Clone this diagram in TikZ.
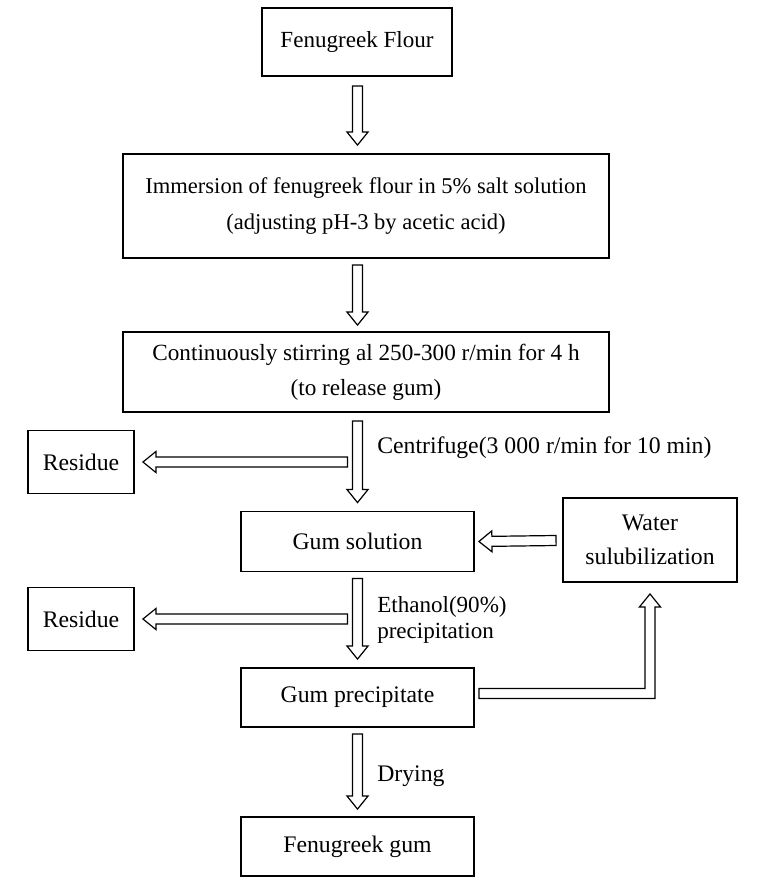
\documentclass[tikz,border=0pt]{standalone}
\usepackage{fontspec}
\setmainfont{Liberation Serif}
\usetikzlibrary{calc}
\newcommand{\hollowarrow}[2]{%
  \coordinate (hs) at (#1);
  \coordinate (he) at (#2);
  \coordinate (hb) at ($(he)!9.75pt!(hs)$);
  \draw[hollowline] ($(hs)!3.75pt!90:(he)$) -- ($(hb)!3.75pt!-90:(hs)$) -- ($(hb)!7.875pt!-90:(hs)$) -- (he) -- ($(hb)!7.875pt!90:(hs)$) -- ($(hb)!3.75pt!90:(hs)$) -- ($(hs)!3.75pt!-90:(he)$) -- cycle;
}
\begin{document}
\begin{tikzpicture}[x=0.75pt,y=-0.75pt,
  every node/.style={font=\fontsize{17.8}{26}\selectfont, text=black},
  stepbox/.style={draw=black, line width=1.4pt, rectangle, inner sep=0pt, align=center},
  hollowline/.style={draw=black, line width=0.9pt, fill=white, line join=miter},
  lbl/.style={anchor=west, inner sep=0pt, align=left}]
\useasboundingbox (0,0) rectangle (763,883);
\node[stepbox, minimum width={190*0.75pt}, minimum height={68*0.75pt}, font=\fontsize{17.3}{26}\selectfont] (flour) at (357,42) {Fenugreek Flour};
\node[stepbox, minimum width={486*0.75pt}, minimum height={104*0.75pt}, font=\fontsize{16.9}{27}\selectfont] (imm) at (366,206) {Immersion of fenugreek flour in 5\% salt solution\\(adjusting pH-3 by acetic acid)};
\node[stepbox, minimum width={486*0.75pt}, minimum height={80*0.75pt}, font=\fontsize{17.4}{26}\selectfont] (stir) at (366,372) {Continuously stirring al 250-300 r/min for 4 h\\(to release gum)};
\node[stepbox, minimum width={106*0.75pt}, minimum height={63*0.75pt}] (res1) at (81,462) {Residue};
\node[stepbox, minimum width={233*0.75pt}, minimum height={60*0.75pt}] (gs) at (357.5,541.5) {Gum solution};
\node[stepbox, minimum width={174*0.75pt}, minimum height={84*0.75pt}] (water) at (650,540) {Water\\sulubilization};
\node[stepbox, minimum width={106*0.75pt}, minimum height={63*0.75pt}] (res2) at (81,619) {Residue};
\node[stepbox, minimum width={233*0.75pt}, minimum height={59*0.75pt}] (gp) at (357.5,697.5) {Gum precipitate};
\node[stepbox, minimum width={233*0.75pt}, minimum height={59*0.75pt}] (fg) at (357.5,846.5) {Fenugreek gum};

% vertical arrows
\hollowarrow{$(flour.south -| gs)+(0,9)$}{$(imm.north -| gs)+(0,-8)$}
\hollowarrow{$(imm.south -| gs)+(0,6)$}{$(stir.north -| gs)+(0,-6)$}
\hollowarrow{$(stir.south -| gs)+(0,8)$}{$(gs.north)+(0,-8)$}
\hollowarrow{$(gs.south)+(0,6)$}{$(gp.north)+(0,-8)$}
\hollowarrow{$(gp.south)+(0,6)$}{$(fg.north)+(0,-7)$}
% horizontal arrows
\hollowarrow{$(res1.east -| gs)+(-10,0)$}{$(res1.east)+(8,0)$}
\hollowarrow{$(res2.east -| gs)+(-10,0)$}{$(res2.east)+(8,0)$}
\hollowarrow{$(water.west)+(-6,0.5)$}{$(gs.east)+(4,0)$}
% elbow arrow
\coordinate (es) at ($(gp.east)+(4,-4)$);
\coordinate (et) at ($(water.south)+(0,11)$);
\coordinate (ec) at (et |- es);
\draw[hollowline] ($(es)+(0,-5)$) -- ($(ec)+(-5,-5)$) -- ($(et)+(-5,13)$) -- ($(et)+(-10.5,13)$) -- (et) -- ($(et)+(10.5,13)$) -- ($(et)+(5,13)$) -- ($(ec)+(5,5)$) -- ($(es)+(0,5)$) -- cycle;

% labels
\node[lbl] (l1) at ($(stir.south -| gs)+(19.5,35)$) {Centrifuge(3 000 r/min for 10 min)};
\node[lbl, font=\fontsize{17.3}{20}\selectfont] (l2) at ($(res2.east -| gs)+(19.5,1)$) {Ethanol(90\%)\\precipitation};
\node[lbl] (l3) at ($(gp.south)+(19.5,48)$) {Drying};
\end{tikzpicture}
\end{document}
